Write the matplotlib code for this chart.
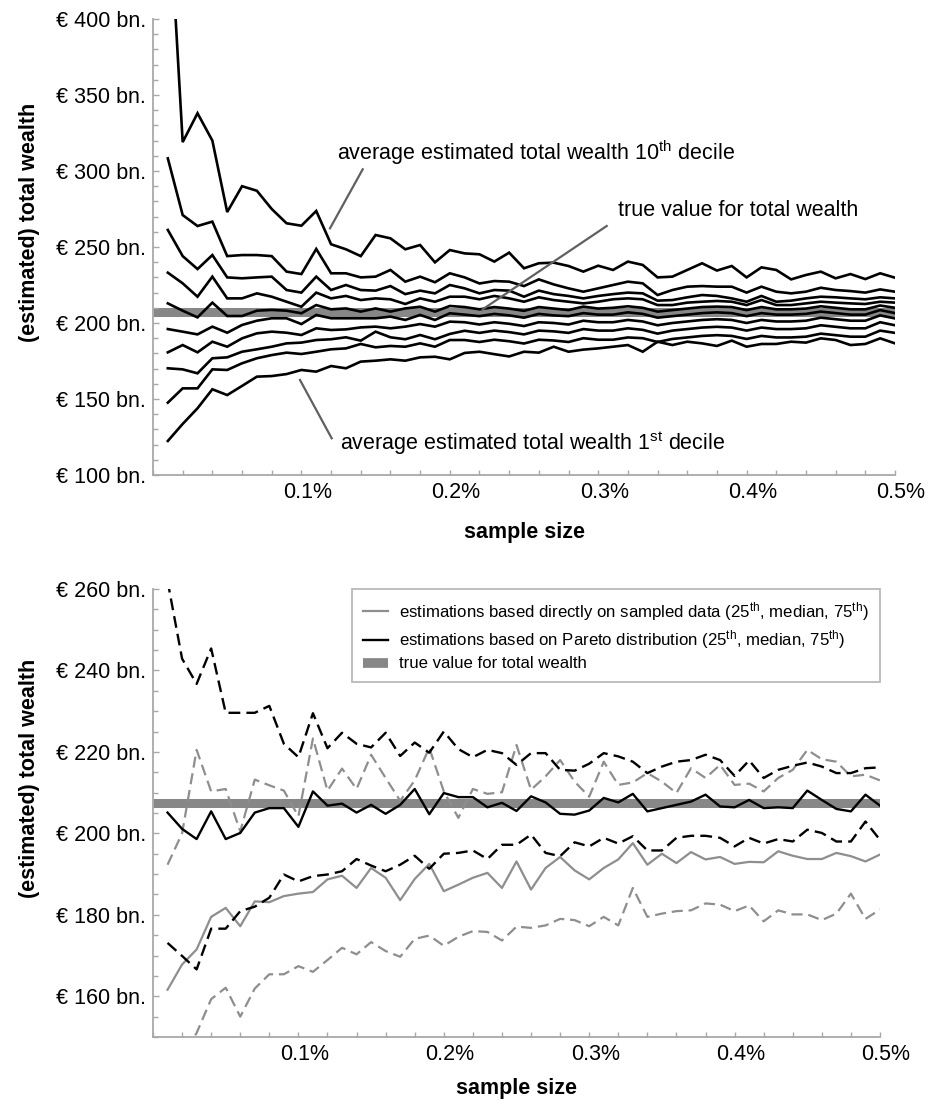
import matplotlib
matplotlib.use("Agg")
import matplotlib.pyplot as plt
from matplotlib.lines import Line2D
from matplotlib.ticker import MultipleLocator, FuncFormatter
from matplotlib.transforms import ScaledTranslation

plt.rcParams['font.family'] = ['Liberation Sans', 'DejaVu Sans']
plt.rcParams['mathtext.fontset'] = 'custom'
plt.rcParams['mathtext.rm'] = 'Liberation Sans'
plt.rcParams['mathtext.it'] = 'Liberation Sans:italic'
plt.rcParams['mathtext.bf'] = 'Liberation Sans:bold'

# ---------------- data ----------------
sample_size = [0.01, 0.02, 0.03, 0.04, 0.05, 0.06, 0.07, 0.08, 0.09, 0.10,
               0.11, 0.12, 0.13, 0.14, 0.15, 0.16, 0.17, 0.18, 0.19, 0.20,
               0.21, 0.22, 0.23, 0.24, 0.25, 0.26, 0.27, 0.28, 0.29, 0.30,
               0.31, 0.32, 0.33, 0.34, 0.35, 0.36, 0.37, 0.38, 0.39, 0.40,
               0.41, 0.42, 0.43, 0.44, 0.45, 0.46, 0.47, 0.48, 0.49, 0.50]

true_value = 207.5

decile_10 = [490, 319, 338, 320, 273, 290, 287, 275, 265.6, 264, 273.7, 251.8, 248.5, 244, 257.9, 255.7, 248.5, 251.3, 239.9, 248,
             245.8, 245.2, 240.4, 246.3, 236, 239.3, 239.7, 237.5, 233.8, 237.7, 234.9, 240.4, 238.2, 230, 230.5, 234.9, 239.3, 234.5, 237.5, 230,
             236.6, 234.9, 228.7, 231.6, 233.8, 229.4, 232.2, 228.9, 232.7, 229.8]
decile_9 = [308.3, 271, 263.8, 266.7, 244, 244.7, 244.7, 244, 233.8, 232.2, 248.7, 232.7, 232.7, 230, 230.5, 234.9, 227.2, 230.5, 226.8, 232.7,
            230, 226, 227.6, 227.2, 224.3, 228.7, 225.4, 222.8, 220.6, 222.8, 225, 227.2, 226.1, 218.4, 221.7, 223.9, 224.3, 223.9, 223.9, 220,
            223.9, 220.6, 219.5, 220.6, 223.2, 221.7, 221, 220, 222.1, 220.6]
decile_8 = [261.2, 244, 235.5, 244.7, 230, 229.4, 230, 230.5, 221.7, 220, 230.5, 221.7, 225, 221.7, 221.3, 224.3, 219, 221.3, 219.5, 225,
            222.8, 219.5, 221.7, 221.3, 217.3, 221.3, 219, 217.8, 216.2, 217.8, 219, 220, 219.5, 214.7, 215.1, 216.9, 218.4, 217.8, 216.2, 214,
            217.8, 214, 214.7, 216.2, 217.3, 216.9, 216.2, 215.6, 216.9, 216.2]
decile_7 = [233.1, 226.1, 217.3, 230.5, 216.2, 216.2, 219.5, 217.3, 214, 210.7, 220, 216.2, 217.8, 215.1, 216.2, 215.6, 212.5, 216.2, 214, 217.3,
            217.3, 215.6, 217.8, 216.2, 214, 216.9, 215.1, 214, 212.9, 214, 215.6, 216.2, 215.6, 211.8, 211.8, 213.4, 214, 214.5, 214, 211.8,
            215.1, 211.8, 211.8, 212.9, 214, 213.4, 212.9, 212.5, 214, 213.4]
decile_6 = [212.9, 208.1, 203.7, 213.4, 204.6, 204.6, 208.1, 208.6, 208.1, 206.4, 211.8, 209, 209.6, 207.5, 209.6, 207.5, 209.6, 210.7, 207.5, 211.2,
            210.5, 209, 210.5, 209.5, 208, 210.5, 209.5, 208.5, 210.8, 209.5, 210, 211, 210, 207.5, 208.5, 209.5, 210.5, 210.8, 210.5, 208.5,
            210.5, 209, 209, 209.5, 211, 210, 209, 209, 211.5, 210]
decile_5 = [196, 194.3, 192.5, 197.6, 193.6, 198.7, 201.5, 203.1, 203.1, 199.3, 205.3, 203.1, 203.1, 203.1, 203.1, 204.2, 202, 205.3, 202, 206.4,
            205.5, 204.5, 206, 205, 203.5, 206, 205, 204.5, 206.5, 205.5, 205.5, 207, 206, 203.5, 204.5, 205.5, 206.5, 207, 206.5, 204.5,
            206.5, 205.5, 205.5, 206, 207.5, 206.5, 205.5, 205.5, 208.5, 206.5]
decile_4 = [180.7, 185.5, 180.7, 187.7, 184.4, 189.9, 193.2, 194.3, 193.6, 192.1, 196.5, 195.4, 195.8, 197.1, 197.6, 196.5, 197.6, 199.3, 197.6, 200.9,
            200.5, 199, 200.5, 199.5, 198, 200.5, 200, 199, 201.5, 200.5, 200.5, 202, 201, 198.5, 200, 201, 202, 202.5, 202, 200,
            202, 201, 201, 201.5, 203.5, 202.5, 201.5, 201.5, 205, 203]
decile_3 = [170.2, 169.5, 166.9, 176.8, 177.4, 181.1, 182.7, 184.4, 186.6, 187.1, 188.8, 189.3, 190.6, 188.4, 194.3, 190.6, 189.3, 192.1, 189.3, 192.8,
            194.9, 193.5, 195, 194, 192.5, 195, 194.5, 193.5, 196, 195, 195, 196.5, 195.5, 193, 195, 196, 197, 197.5, 197, 195,
            197, 196, 196, 196.5, 198.5, 197.5, 196.5, 196.5, 200.5, 198.5]
decile_2 = [147.6, 157, 157, 169.5, 169.1, 173.5, 176.8, 178.9, 180.5, 179.6, 181.1, 182.7, 183.3, 186.2, 184, 184.9, 184.4, 186.6, 184.4, 188.8,
            188.8, 187.5, 189, 188, 186.5, 189, 188.5, 187.5, 190, 189, 189, 190.5, 190, 187.5, 189.5, 190.5, 191.5, 192, 191.5, 189.5,
            191.5, 190.5, 190.5, 191, 193, 192, 191, 191, 195, 193.5]
decile_1 = [122.4, 133.6, 143.9, 156.4, 152.6, 158.6, 164.7, 165.1, 166.4, 169.1, 168, 171.7, 170.2, 174.6, 175.2, 176.1, 175.2, 177.4, 177.8, 176.1,
            180.3, 181.1, 179.5, 178, 181.1, 180.5, 184.4, 181.1, 182.5, 183.3, 184.4, 185.5, 181.1, 187.7, 185.5, 187.7, 186.6, 184.9, 188.4, 184.4,
            186.2, 186.2, 187.7, 187.1, 189.9, 188.8, 185.5, 186.2, 189.9, 186.6]

# bottom panel: direct estimations (gray) and Pareto estimations (black)
direct_p75 = [192.3, 200, 220.5, 210.3, 210.9, 200.5, 213.2, 211.8, 210.5, 204.2, 223.3, 210.5, 215.9, 210.9, 219.3, 213.6, 208, 213, 221, 210.3,
              203.8, 210.9, 209.7, 210.1, 221.7, 210.7, 214, 218, 212.7, 209, 217.6, 211.9, 212.5, 214.8, 212.7, 209.9, 216, 213.6, 216.8, 211.9,
              212.2, 210.3, 213.6, 215.6, 220.5, 218.2, 217.6, 214, 214.4, 213]
direct_med = [161.6, 167.8, 171.5, 179.5, 181.7, 177.2, 183.3, 183.1, 184.6, 185.2, 185.6, 188.7, 189.6, 186.6, 191.5, 189.1, 183.6, 188.8, 192.5, 185.8,
              187.4, 189.1, 190.3, 186.6, 193.1, 186.2, 191.5, 194.2, 190.9, 188.7, 191.5, 193.6, 197.6, 192.3, 195, 192.7, 195.4, 193.6, 194.2, 192.5,
              193, 192.9, 195.6, 194.5, 193.7, 193.7, 195.2, 194.4, 193.1, 194.8]
direct_p25 = [140, 145, 151, 159.3, 162.1, 155, 161.9, 165.4, 165.4, 167.4, 166, 168.9, 171.9, 170.3, 173.3, 171.1, 169.7, 174.1, 174.9, 172.4,
              174.6, 176, 175.8, 173.7, 177.1, 176.8, 177.4, 179, 178.7, 177.2, 179.5, 177.4, 186.6, 179.5, 180.3, 180.9, 181.1, 182.8, 182.5, 180.9,
              182.3, 178.4, 181.1, 180.1, 180.1, 178.7, 180.3, 185.2, 179, 181.3]
pareto_p75 = [262, 242.9, 236.7, 245.4, 229.6, 229.6, 229.6, 231.3, 222, 218.7, 229.5, 220.9, 224.7, 222, 221.1, 224.7, 219, 222.3, 219.8, 225,
              220.7, 218.7, 220.5, 219.7, 216.8, 219.7, 219.7, 215.6, 215.4, 217.1, 219.7, 218.9, 217.6, 214.8, 216.4, 217.6, 218, 219.3, 218, 214.1,
              217.9, 213.6, 215.6, 216.6, 217.4, 216.4, 214.8, 214.8, 216, 216.2]
pareto_med = [205.1, 201.1, 198.6, 205.4, 198.6, 200.1, 205.1, 206.2, 206.2, 201.6, 210.3, 206.8, 207.3, 205.1, 207, 204.8, 207, 210.9, 204.7, 209.9,
              208.9, 208.9, 206.4, 207.5, 205.5, 209.1, 207.6, 204.8, 204.6, 205.6, 208.7, 207.6, 209.7, 205.4, 206.2, 207, 207.8, 209.5, 206.6, 206.4,
              208.2, 206.2, 206.4, 206.2, 210.5, 208.2, 206, 205.4, 209.5, 206.8]
pareto_p25 = [173.1, 169.9, 166.6, 176.6, 176.6, 180.9, 182, 184.2, 189.9, 188.2, 189.5, 189.9, 190.7, 193.7, 192.1, 190.7, 192.3, 194.5, 191.3, 195,
              195.2, 195.8, 193.7, 197.2, 197.2, 199.7, 195.2, 194.4, 197.8, 196.8, 198.9, 197.5, 199.3, 195.8, 195.8, 198.9, 199.4, 199.4, 198.9, 196.8,
              198.9, 197.5, 198.6, 198, 200.9, 200.1, 198, 198, 202.9, 198.4]

x_tick_values = [0.1, 0.2, 0.3, 0.4, 0.5]
x_tick_labels = ["0.1%", "0.2%", "0.3%", "0.4%", "0.5%"]

# ---------------- figure ----------------
W, H = 935, 1109
fig = plt.figure(figsize=(W / 100, H / 100), dpi=100)

def px_rect(l, t, r, b):
    return [l / W, 1 - b / H, (r - l) / W, (b - t) / H]

ax1 = fig.add_axes(px_rect(153, 19, 895, 475))
ax2 = fig.add_axes(px_rect(153, 589, 880, 1037))

SPINE = '#a8a8a8'
FS = 15.5
BAND = '#878787'
GRAY = '#8e8e8e'

def style(ax, ymin, ymax, ymaj, ymin_step, xlabelpad):
    ax.set_xlim(0, 0.5)
    ax.set_ylim(ymin, ymax)
    for s in ['top', 'right']:
        ax.spines[s].set_visible(False)
    for s in ['left', 'bottom']:
        ax.spines[s].set_color(SPINE)
        ax.spines[s].set_linewidth(1.3)
    ax.xaxis.set_major_locator(MultipleLocator(0.1))
    ax.xaxis.set_minor_locator(MultipleLocator(0.02))
    ax.set_xticks(x_tick_values)
    ax.set_xticklabels(x_tick_labels)
    ax.yaxis.set_major_locator(MultipleLocator(ymaj))
    ax.yaxis.set_minor_locator(MultipleLocator(ymin_step))
    ax.yaxis.set_major_formatter(FuncFormatter(lambda v, p: "€ %d bn." % v))
    ax.tick_params(axis='both', which='both', direction='in', color=SPINE, width=1.0)
    ax.tick_params(axis='both', which='major', length=4.5, labelsize=FS, pad=5)
    ax.tick_params(axis='both', which='minor', length=3.5)
    ax.tick_params(axis='x', which='major', length=3.5)
    off = ScaledTranslation(6 / 100, 0, fig.dpi_scale_trans)
    for lab in ax.get_xticklabels():
        lab.set_transform(lab.get_transform() + off)
    ax.set_xlabel("sample size", fontsize=FS, fontweight='bold', labelpad=xlabelpad)
    ax.set_ylabel("(estimated) total wealth", fontsize=FS, fontweight='bold')

style(ax1, 100, 400, 50, 10, 14)
style(ax2, 150, 260, 20, 5, 9.5)
ax1.yaxis.set_label_coords(-113 / 742, 1 - (222 - 19) / 456)
ax2.yaxis.set_label_coords(-113 / 727, 1 - (778 - 589) / 448)

# ---- top panel ----
ax1.axhline(true_value, color=BAND, lw=6.5, zorder=1, solid_capstyle='butt')
for series in [decile_10, decile_9, decile_8, decile_7, decile_6,
               decile_5, decile_4, decile_3, decile_2, decile_1]:
    ax1.plot(sample_size, series, color='black', lw=1.9, zorder=3,
             solid_joinstyle='miter')

def fig_line(p0, p1, color='#606060', lw=1.6):
    fig.add_artist(Line2D([p0[0] / W, p1[0] / W], [1 - p0[1] / H, 1 - p1[1] / H],
                          transform=fig.transFigure, color=color, lw=lw))

def fig_text(x, y, s, **kw):
    fig.text(x / W, 1 - y / H, s, fontsize=FS, va='center', ha='left', **kw)

fig_text(337, 153, r"average estimated total wealth 10$^{\mathrm{th}}$ decile")
fig_line((362.7, 169.3), (330, 228.3))
fig_text(618, 211, "true value for total wealth")
fig_line((606.7, 226), (482.7, 309.3))
fig_text(340, 443, r"average estimated total wealth 1$^{\mathrm{st}}$ decile")
fig_line((300, 380), (331.7, 438.3))

# ---- bottom panel ----
ax2.axhline(true_value, color=BAND, lw=6.5, zorder=1, solid_capstyle='butt')
dash = (5.0, 2.6)
ax2.plot(sample_size, direct_p75, color=GRAY, lw=1.6, dashes=dash, zorder=2)
ax2.plot(sample_size, direct_p25, color=GRAY, lw=1.6, dashes=dash, zorder=2)
ax2.plot(sample_size, direct_med, color=GRAY, lw=1.6, zorder=2)
ax2.plot(sample_size, pareto_p75, color='black', lw=1.7, dashes=dash, zorder=3)
ax2.plot(sample_size, pareto_p25, color='black', lw=1.7, dashes=dash, zorder=3)
ax2.plot(sample_size, pareto_med, color='black', lw=1.7, zorder=3)

handles = [Line2D([], [], color=GRAY, lw=1.6),
           Line2D([], [], color='black', lw=1.7),
           Line2D([], [], color=BAND, lw=7, solid_capstyle='butt')]
labels = [r"estimations based directly on sampled data (25$^{\mathrm{th}}$, median, 75$^{\mathrm{th}}$)",
          r"estimations based on Pareto distribution (25$^{\mathrm{th}}$, median, 75$^{\mathrm{th}}$)",
          "true value for total wealth"]
leg = ax2.legend(handles, labels, loc='upper right', bbox_to_anchor=(1.0, 1.0),
                 borderaxespad=0, fontsize=12.1, frameon=True, fancybox=False,
                 handlelength=1.5, handletextpad=0.7, labelspacing=0.32,
                 borderpad=0.65)
leg.get_frame().set_edgecolor(SPINE)
leg.get_frame().set_linewidth(1.3)

fig.savefig("out.png", dpi=100)
